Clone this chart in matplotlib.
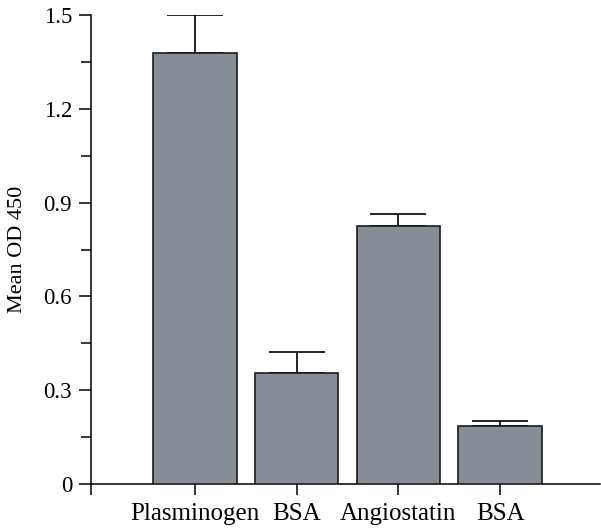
import numpy as np
import matplotlib
matplotlib.use('Agg')
import matplotlib.pyplot as plt
from matplotlib.ticker import MultipleLocator

# data
labels = ['Plasminogen', 'BSA', 'Angiostatin', 'BSA']
means = [1.38, 0.355, 0.826, 0.185]
errs = [0.12, 0.067, 0.036, 0.018]

plt.rcParams['font.family'] = ['Liberation Serif', 'DejaVu Serif']

fig = plt.figure(figsize=(6.01, 5.29), dpi=100)
ax = fig.add_axes([91/601, 1-484/529, 509/601, 469/529])

x = np.arange(len(labels))
ax.bar(x, means, width=0.82, color='#878d94', edgecolor='#1a1a1a', linewidth=1.2, zorder=3)
# upper error only, lower cap hides under bar edge
ax.errorbar(x, means, yerr=[np.zeros(len(errs)), errs], fmt='none', ecolor='black',
            elinewidth=1.2, capsize=20, capthick=1.2, zorder=2)

ax.set_xlim(-1.02, 3.98)
ax.set_ylim(0, 1.5)
ax.set_xticks([-1.02] + list(x))
ax.set_xticklabels([''] + labels, fontsize=18)
ax.set_yticks([0, 0.3, 0.6, 0.9, 1.2, 1.5])
ax.set_yticklabels(['0', '0.3', '0.6', '0.9', '1.2', '1.5'], fontsize=16.5)
ax.yaxis.set_minor_locator(MultipleLocator(0.15))
ax.tick_params(axis='y', which='major', length=8.6, width=1.1, pad=5)
ax.tick_params(axis='y', which='minor', length=7, width=1.1)
ax.tick_params(axis='x', length=8, width=1.1, pad=6)
ax.spines['top'].set_visible(False)
ax.spines['right'].set_visible(False)
ax.spines['left'].set_linewidth(1.1)
ax.spines['bottom'].set_linewidth(1.1)
ax.set_ylabel('Mean OD 450', fontsize=16, labelpad=12)

fig.savefig('out.png', dpi=100)
